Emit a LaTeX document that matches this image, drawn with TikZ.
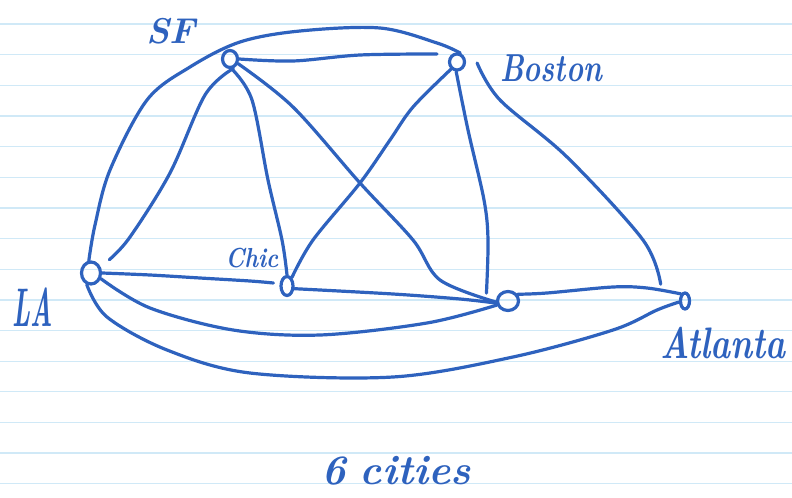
\documentclass[tikz,border=0pt]{standalone}
\usepackage{graphicx}
\usetikzlibrary{shapes.geometric}
\definecolor{ink}{RGB}{46,98,190}
\definecolor{paperrule}{RGB}{208,233,247}
\tikzset{
  city/.style={draw=ink, line width=3.2bp, ellipse, inner sep=0pt},
  wire/.style={draw=ink, line width=3.2bp, line cap=round, line join=round},
  lab/.style={text=ink, inner sep=0pt, font=\bfseries\itshape},
  hand/.style={smooth, tension=0.55},
}
\begin{document}
\begin{tikzpicture}[x=1bp,y=-1bp]
\useasboundingbox (0,0) rectangle (792,498);
\fill[white] (0,0) rectangle (792,498);
\foreach \k in {0,...,15}
  \draw[paperrule, line width=1.3bp] (0,{24+30.65*\k}) -- (792,{24+30.65*\k});

% cities
\node[city, minimum width=15bp, minimum height=17bp] (SF) at (230,59) {};
\node[city, minimum width=15bp, minimum height=16bp] (Boston) at (457,62) {};
\node[city, minimum width=19bp, minimum height=22bp] (LA) at (91,273) {};
\node[city, minimum width=12bp, minimum height=19bp] (Chic) at (287,286) {};
\node[city, minimum width=21bp, minimum height=19bp] (D) at (508,301) {};
\node[city, minimum width=9bp, minimum height=16bp] (Atlanta) at (685,301) {};

% labels
\node[lab] (tSF) at (171,31) {\fontsize{36}{36}\selectfont SF};
\node[lab] (tBoston) at (551,68) {\scalebox{1}[1.35]{\fontsize{29}{29}\selectfont Boston}};
\node[lab] (tLA) at (33,307) {\scalebox{1}[2.1]{\fontsize{26}{26}\selectfont LA}};
\node[lab] (tChic) at (252,258) {\scalebox{1}[1.2]{\fontsize{23}{23}\selectfont Chic}};
\node[lab] (tAtlanta) at (723,343) {\scalebox{1}[1.3]{\fontsize{34}{34}\selectfont Atlanta}};
\node[lab] (tcities) at (396,471) {\fontsize{42}{42}\selectfont 6\,\,cities};

% connectors
% LA -- Boston (big arc over SF)
\draw[wire] plot[hand] coordinates {(LA.100) (95,225) (110,170) (147,100) (190,67) (240,42) (300,31) (380,28) (437,43) (Boston.70)};
% SF -- Boston
\draw[wire] plot[hand] coordinates {(SF.east) (293,61) (360,55) (437,54)};
% SF -- LA
\draw[wire] plot[hand] coordinates {(SF.-70) (205,95) (170,173) (130,237) ([xshift=10bp,yshift=5bp]LA.45)};
% SF -- Chic
\draw[wire] plot[hand] coordinates {(SF.-80) (252,100) (268,180) (282,240) (Chic.north)};
% SF -- D
\draw[wire] plot[hand] coordinates {(SF.-30) (293,107) (360,183) (413,240) (440,280) (D.185)};
% Boston -- Chic
\draw[wire] plot[hand] coordinates {(Boston.-130) (413,107) (390,140) (360,183) (313,240) (Chic.60)};
% Boston -- D
\draw[wire] plot[hand] coordinates {(Boston.-95) (468,130) (484,200) (488,240) ([xshift=-13bp]D.north west)};
% Boston -- Atlanta
\draw[wire] plot[hand] coordinates {([xshift=11bp,yshift=-1bp]Boston.east) (500,100) (567,157) (643,240) ([xshift=-20bp,yshift=10bp]Atlanta.north west)};
% LA -- Chic
\draw[wire] plot[hand] coordinates {(LA.east) (150,275) (200,278) (250,281) ([xshift=-6bp,yshift=3bp]Chic.west)};
% Chic -- D
\draw[wire] plot[hand] coordinates {(Chic.-20) (393,294) (460,299) (D.190)};
% D -- Atlanta
\draw[wire] plot[hand] coordinates {(D.35) (547,293) (613,287) (647,288) (Atlanta.120)};
% LA -- D (lower curve)
\draw[wire] plot[hand] coordinates {(LA.-30) (150,308) (233,330) (320,335) (427,323) (D.200)};
% LA -- Atlanta (lowest curve)
\draw[wire] plot[hand] coordinates {(LA.-110) (107,317) (167,350) (250,373) (393,377) (513,357) (613,330) (657,310) (Atlanta.-170)};
\end{tikzpicture}
\end{document}
